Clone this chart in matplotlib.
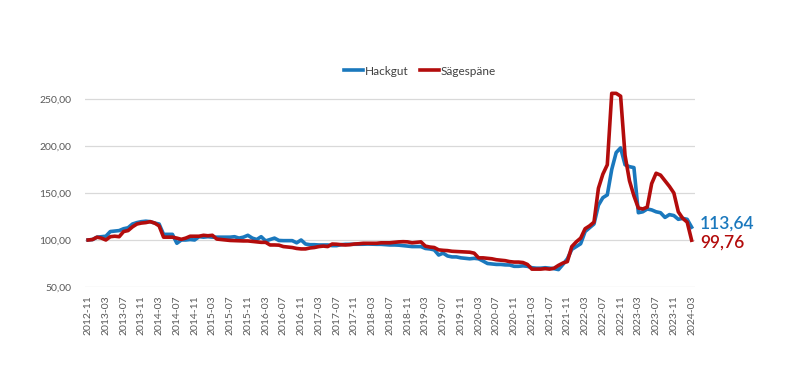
import numpy as np
import pandas as pd
import matplotlib
matplotlib.use("Agg")
import matplotlib.pyplot as plt
from matplotlib.ticker import FuncFormatter

plt.rcParams['font.family'] = ['Lato', 'DejaVu Sans']

# monthly index 2012-11 .. 2024-03
months = pd.period_range("2012-11", "2024-03", freq="M")

hackgut = [
    100, 100.5, 103, 103.5, 104, 109, 109.5, 110, 112, 113,
    117, 118.5, 119.5, 120, 119.5, 118, 117, 106, 106, 106,
    96.5, 100, 100, 100.5, 100, 103.5, 103, 103.5, 103, 103,
    103, 103, 103, 103.5, 102, 103, 105, 102, 100.5, 103.5,
    99, 100.5, 102, 99.5, 99.3, 99.3, 99.3, 97, 100, 95.7,
    95, 95, 94.7, 94.7, 94.7, 94, 94, 95, 95.4, 95.4,
    95.4, 95.4, 95.5, 95.7, 95.5, 95.4, 95.4, 95, 94.7, 94.7,
    94.5, 94, 93.5, 93, 93, 93, 91, 90.5, 89.5, 84,
    86, 83, 82, 82, 81, 80.5, 80, 80.5, 80, 77.6,
    75, 74.5, 74, 74, 73.5, 73.4, 72, 72, 72.5, 72,
    70.5, 70, 70, 70.5, 70, 69.5, 68.5, 74, 80, 90,
    93, 96, 109, 113, 117, 137, 145, 148, 175, 193,
    198, 180, 178, 177, 129, 130, 133, 132, 130, 129,
    124, 127, 126, 122, 123, 122, 113.64,
]

saegespaene = [
    100, 100.5, 103, 102, 100, 103.5, 104, 103.5, 109, 110,
    114, 117, 118, 118.5, 119.5, 118, 115, 103, 103, 103,
    102, 100.7, 102, 104, 104, 104, 105, 104.5, 105, 101,
    100.5, 100, 99.5, 99.3, 99, 99, 99, 98.5, 98, 97.5,
    97.5, 94.7, 94.7, 94.5, 93, 92.5, 92, 91, 90.5, 90.5,
    91.5, 92, 93, 93.5, 93, 95.7, 95.5, 95, 94.7, 95,
    95.7, 96, 96.5, 96.5, 96.5, 96.5, 97, 97, 97, 97.5,
    98, 98.2, 98, 97, 97.5, 98, 93.5, 92.5, 92, 89.5,
    89, 88.7, 88, 87.8, 87.5, 87.2, 87, 86, 81, 81,
    80.5, 80, 79, 78.5, 78, 77, 76.5, 76.5, 76, 74,
    69, 69, 69, 69.5, 69, 70, 73, 75.5, 77, 93,
    98, 102, 112, 115, 119, 155, 170, 180, 256, 256,
    253, 190, 163, 147, 134, 133, 135, 160, 171, 169,
    163, 157, 150, 130, 123, 119, 99.76,
]

names = ["Hackgut", "Sägespäne"]
colors = ["#1a78bd", "#b30c0c"]

fig = plt.figure(figsize=(8.05, 3.86), dpi=100)
ax = fig.add_axes([0.1056, 0.2565, 0.7574, 0.5114])

x = np.arange(len(months))
for vals, name, col in zip([hackgut, saegespaene], names, colors):
    ax.plot(x, vals, color=col, lw=2.6, label=name, solid_joinstyle='round')

ax.set_xlim(-0.7, 136.7)
ax.set_ylim(50, 260)
ax.set_yticks([50, 100, 150, 200, 250])
ax.yaxis.set_major_formatter(FuncFormatter(lambda v, p: f"{v:.2f}".replace(".", ",")))
ax.grid(axis='y', color='#d9d9d9', lw=0.9)
ax.set_axisbelow(True)
for s in ax.spines.values():
    s.set_visible(False)
ax.tick_params(axis='y', length=0, labelsize=7.5, labelcolor='#595959', pad=10)

tick_pos = x[::4]
ax.set_xticks(tick_pos)
ax.set_xticklabels([str(months[i]) for i in tick_pos], rotation=90,
                   fontsize=7.5, color='#595959')
ax.tick_params(axis='x', length=0, pad=6)

# end labels
ax.annotate("113,64", xy=(x[-1], hackgut[-1]), xytext=(6, 2.5), textcoords='offset points',
            color=colors[0], fontsize=12.5, va='center', ha='left', annotation_clip=False,
            fontweight='semibold')
ax.annotate("99,76", xy=(x[-1], saegespaene[-1]), xytext=(6, -1.5), textcoords='offset points',
            color=colors[1], fontsize=12.5, va='center', ha='left', annotation_clip=False,
            fontweight='semibold')

fig.legend(loc='center', bbox_to_anchor=(0.522, 0.816), ncol=2, frameon=False,
           fontsize=8.5, handlelength=1.6, handletextpad=0.15, columnspacing=1.0,
           labelcolor='#404040')

fig.savefig("out.png", dpi=100)
